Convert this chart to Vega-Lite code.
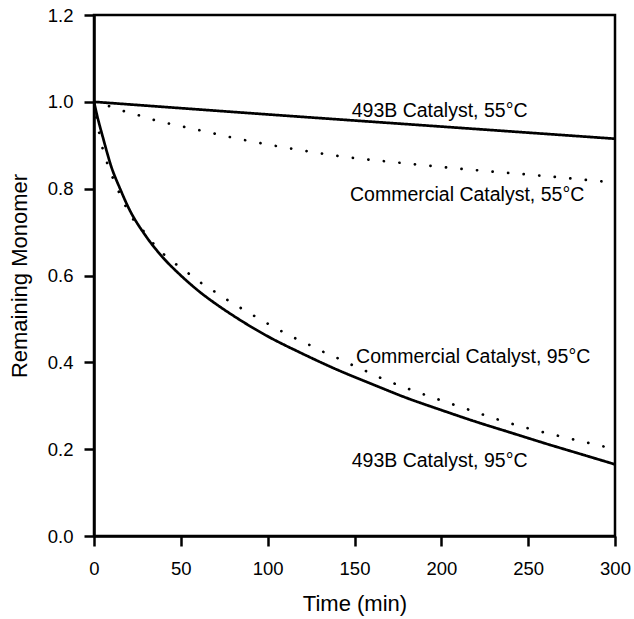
{
  "$schema": "https://vega.github.io/schema/vega-lite/v6.json",
  "width": 521,
  "height": 521,
  "autosize": {"type": "none"},
  "padding": {"left": 94, "top": 15, "right": 19, "bottom": 83},
  "background": "white",
  "config": {
    "font": "Liberation Sans",
    "view": {"stroke": "black", "strokeWidth": 2.5},
    "axis": {
      "grid": false,
      "domainColor": "black",
      "domainWidth": 2.5,
      "tickColor": "black",
      "tickWidth": 2.5,
      "tickSize": 10,
      "labelFlush": false,
      "labelOverlap": false,
      "labelFont": "Liberation Sans",
      "labelFontSize": 18.5,
      "labelColor": "black",
      "titleFont": "Liberation Sans",
      "titleFontSize": 22,
      "titleFontWeight": "normal",
      "titleColor": "black"
    }
  },
  "datasets": {
    "curves": [
      {"catalyst": "493B", "temp": "55", "time": 0, "monomer": 1.0},
      {"catalyst": "493B", "temp": "55", "time": 100, "monomer": 0.971},
      {"catalyst": "493B", "temp": "55", "time": 200, "monomer": 0.943},
      {"catalyst": "493B", "temp": "55", "time": 300, "monomer": 0.915},

      {"catalyst": "Commercial", "temp": "55", "time": 0, "monomer": 1.0},
      {"catalyst": "Commercial", "temp": "55", "time": 8, "monomer": 0.991},
      {"catalyst": "Commercial", "temp": "55", "time": 16, "monomer": 0.98},
      {"catalyst": "Commercial", "temp": "55", "time": 25, "monomer": 0.97},
      {"catalyst": "Commercial", "temp": "55", "time": 33, "monomer": 0.96},
      {"catalyst": "Commercial", "temp": "55", "time": 42, "monomer": 0.951},
      {"catalyst": "Commercial", "temp": "55", "time": 50, "monomer": 0.944},
      {"catalyst": "Commercial", "temp": "55", "time": 67, "monomer": 0.929},
      {"catalyst": "Commercial", "temp": "55", "time": 84, "monomer": 0.914},
      {"catalyst": "Commercial", "temp": "55", "time": 101, "monomer": 0.901},
      {"catalyst": "Commercial", "temp": "55", "time": 120, "monomer": 0.888},
      {"catalyst": "Commercial", "temp": "55", "time": 143, "monomer": 0.874},
      {"catalyst": "Commercial", "temp": "55", "time": 180, "monomer": 0.858},
      {"catalyst": "Commercial", "temp": "55", "time": 219, "monomer": 0.843},
      {"catalyst": "Commercial", "temp": "55", "time": 260, "monomer": 0.829},
      {"catalyst": "Commercial", "temp": "55", "time": 300, "monomer": 0.814},

      {"catalyst": "493B", "temp": "95", "time": 0, "monomer": 1.0},
      {"catalyst": "493B", "temp": "95", "time": 2, "monomer": 0.965},
      {"catalyst": "493B", "temp": "95", "time": 5, "monomer": 0.92},
      {"catalyst": "493B", "temp": "95", "time": 10, "monomer": 0.85},
      {"catalyst": "493B", "temp": "95", "time": 15, "monomer": 0.8},
      {"catalyst": "493B", "temp": "95", "time": 20, "monomer": 0.755},
      {"catalyst": "493B", "temp": "95", "time": 30, "monomer": 0.69},
      {"catalyst": "493B", "temp": "95", "time": 40, "monomer": 0.64},
      {"catalyst": "493B", "temp": "95", "time": 50, "monomer": 0.6},
      {"catalyst": "493B", "temp": "95", "time": 60, "monomer": 0.565},
      {"catalyst": "493B", "temp": "95", "time": 70, "monomer": 0.535},
      {"catalyst": "493B", "temp": "95", "time": 80, "monomer": 0.508},
      {"catalyst": "493B", "temp": "95", "time": 90, "monomer": 0.483},
      {"catalyst": "493B", "temp": "95", "time": 100, "monomer": 0.46},
      {"catalyst": "493B", "temp": "95", "time": 120, "monomer": 0.42},
      {"catalyst": "493B", "temp": "95", "time": 140, "monomer": 0.383},
      {"catalyst": "493B", "temp": "95", "time": 160, "monomer": 0.35},
      {"catalyst": "493B", "temp": "95", "time": 180, "monomer": 0.318},
      {"catalyst": "493B", "temp": "95", "time": 200, "monomer": 0.29},
      {"catalyst": "493B", "temp": "95", "time": 220, "monomer": 0.263},
      {"catalyst": "493B", "temp": "95", "time": 240, "monomer": 0.238},
      {"catalyst": "493B", "temp": "95", "time": 260, "monomer": 0.213},
      {"catalyst": "493B", "temp": "95", "time": 280, "monomer": 0.189},
      {"catalyst": "493B", "temp": "95", "time": 300, "monomer": 0.165},

      {"catalyst": "Commercial", "temp": "95", "time": 0, "monomer": 1.0},
      {"catalyst": "Commercial", "temp": "95", "time": 2, "monomer": 0.95},
      {"catalyst": "Commercial", "temp": "95", "time": 4.5, "monomer": 0.9},
      {"catalyst": "Commercial", "temp": "95", "time": 7, "monomer": 0.866},
      {"catalyst": "Commercial", "temp": "95", "time": 10, "monomer": 0.833},
      {"catalyst": "Commercial", "temp": "95", "time": 13.5, "monomer": 0.8},
      {"catalyst": "Commercial", "temp": "95", "time": 17.5, "monomer": 0.765},
      {"catalyst": "Commercial", "temp": "95", "time": 22.5, "monomer": 0.73},
      {"catalyst": "Commercial", "temp": "95", "time": 29, "monomer": 0.7},
      {"catalyst": "Commercial", "temp": "95", "time": 36, "monomer": 0.665},
      {"catalyst": "Commercial", "temp": "95", "time": 45, "monomer": 0.633},
      {"catalyst": "Commercial", "temp": "95", "time": 54, "monomer": 0.606},
      {"catalyst": "Commercial", "temp": "95", "time": 62, "monomer": 0.582},
      {"catalyst": "Commercial", "temp": "95", "time": 71, "monomer": 0.559},
      {"catalyst": "Commercial", "temp": "95", "time": 79, "monomer": 0.538},
      {"catalyst": "Commercial", "temp": "95", "time": 88, "monomer": 0.517},
      {"catalyst": "Commercial", "temp": "95", "time": 96.5, "monomer": 0.497},
      {"catalyst": "Commercial", "temp": "95", "time": 105, "monomer": 0.478},
      {"catalyst": "Commercial", "temp": "95", "time": 113.5, "monomer": 0.46},
      {"catalyst": "Commercial", "temp": "95", "time": 122, "monomer": 0.444},
      {"catalyst": "Commercial", "temp": "95", "time": 130.5, "monomer": 0.427},
      {"catalyst": "Commercial", "temp": "95", "time": 139, "monomer": 0.412},
      {"catalyst": "Commercial", "temp": "95", "time": 147.5, "monomer": 0.396},
      {"catalyst": "Commercial", "temp": "95", "time": 156, "monomer": 0.381},
      {"catalyst": "Commercial", "temp": "95", "time": 164, "monomer": 0.366},
      {"catalyst": "Commercial", "temp": "95", "time": 181, "monomer": 0.339},
      {"catalyst": "Commercial", "temp": "95", "time": 198, "monomer": 0.315},
      {"catalyst": "Commercial", "temp": "95", "time": 215, "monomer": 0.292},
      {"catalyst": "Commercial", "temp": "95", "time": 232, "monomer": 0.269},
      {"catalyst": "Commercial", "temp": "95", "time": 249, "monomer": 0.249},
      {"catalyst": "Commercial", "temp": "95", "time": 266, "monomer": 0.232},
      {"catalyst": "Commercial", "temp": "95", "time": 283, "monomer": 0.216},
      {"catalyst": "Commercial", "temp": "95", "time": 300, "monomer": 0.2}
    ],
    "labels": [
      {"label": "493B Catalyst, 55°C", "time": 148.4, "monomer": 0.966},
      {"label": "Commercial Catalyst, 55°C", "time": 147.4, "monomer": 0.772},
      {"label": "Commercial Catalyst, 95°C", "time": 150.9, "monomer": 0.398},
      {"label": "493B Catalyst, 95°C", "time": 148.4, "monomer": 0.158}
    ]
  },
  "layer": [
    {
      "data": {"name": "curves"},
      "mark": {"type": "line", "interpolate": "monotone", "strokeCap": "round", "color": "black", "strokeWidth": 2.7, "clip": true},
      "encoding": {
        "x": {
          "field": "time", "type": "quantitative",
          "scale": {"domain": [0, 300], "nice": false, "zero": false},
          "axis": {"title": "Time (min)", "values": [0, 50, 100, 150, 200, 250, 300], "labelPadding": 13, "titlePadding": 16}
        },
        "y": {
          "field": "monomer", "type": "quantitative",
          "scale": {"domain": [0, 1.2], "nice": false},
          "axis": {"title": "Remaining Monomer", "format": ".1f", "values": [0, 0.2, 0.4, 0.6, 0.8, 1.0, 1.2], "labelPadding": 11, "titlePadding": 16}
        },
        "detail": {"field": "temp", "type": "nominal"},
        "strokeDash": {
          "field": "catalyst", "type": "nominal",
          "scale": {"domain": ["493B", "Commercial"], "range": [[1, 0], [0.1, 15.5]]},
          "legend": null
        }
      }
    },
    {
      "data": {"name": "labels"},
      "mark": {"type": "text", "align": "left", "baseline": "alphabetic", "fontSize": 19.5, "font": "Liberation Sans", "color": "black"},
      "encoding": {
        "x": {"field": "time", "type": "quantitative"},
        "y": {"field": "monomer", "type": "quantitative"},
        "text": {"field": "label"}
      }
    }
  ]
}
